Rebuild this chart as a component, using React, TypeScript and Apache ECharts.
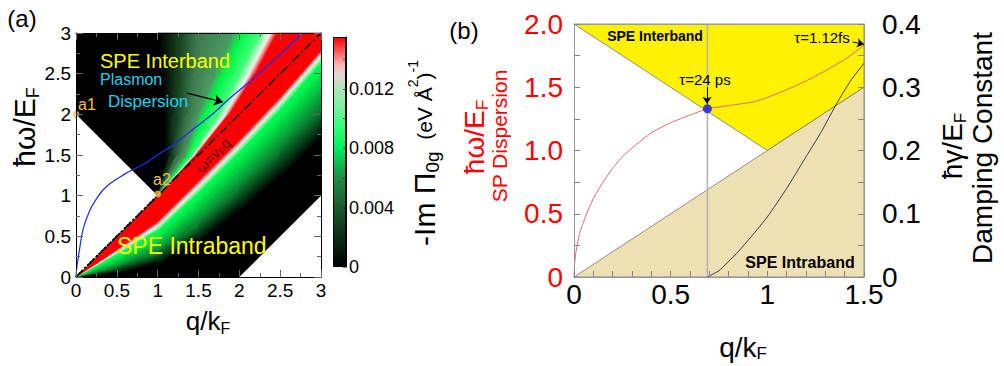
import React, { useEffect, useRef } from 'react';
import * as echarts from 'echarts';

const FONT = '"Liberation Sans", Arial, Helvetica, sans-serif';

// ---------------- Panel (a) ----------------
const aAxisMin = 0;
const aAxisMax = 3;
const aAxisStep = 0.5;

// Heat map.
// Intraband side (below ω = vF q): ħω/EF of each colour edge at these q/kF columns
const intraCols = [0, 0.25, 0.5, 1, 1.5, 2, 2.5, 3];
const intraLineW = [0, 0.25, 0.5, 1, 1.5, 2, 2.5, 3];
const intraRedW = [0, 0.17, 0.34, 0.69, 1.19, 1.69, 2.22, 2.79];
const intraWhiteW = [0, 0.15, 0.31, 0.63, 1.12, 1.62, 2.15, 2.73];
const intraBrightW = [0, 0.13, 0.27, 0.56, 1.02, 1.52, 2.04, 2.62];
const intraGreenW = [0, 0.1, 0.2, 0.45, 0.88, 1.36, 1.86, 2.42];
const intraMidW = [0, 0.06, 0.13, 0.32, 0.68, 1.12, 1.6, 2.12];
const intraBlackW = [0, 0.02, 0.05, 0.15, 0.42, 0.8, 1.22, 1.68];
const intraColors = ['#000000', '#0e8a33', '#00d844', '#00ff50', '#f2f6ee', '#ff0000', '#ff0000'];
// Interband side (above ω = vF q): q/kF of each colour edge at these ħω/EF rows
const interRows = [1, 1.5, 2, 2.5, 3];
const interBlackQ = [1, 1.1, 1.07, 1.04, 1.0];
const interDarkQ = [1, 1.18, 1.22, 1.25, 1.25];
const interGreyQ = [1, 1.27, 1.4, 1.45, 1.5];
const interGrey2Q = [1, 1.33, 1.5, 1.68, 1.92];
const interBrightQ = [1, 1.38, 1.57, 1.82, 2.03];
const interLimeQ = [1, 1.42, 1.74, 2.0, 2.25];
const interWhiteQ = [1, 1.45, 1.83, 2.12, 2.38];
const interRedQ = [1, 1.47, 1.88, 2.2, 2.47];
const interLineQ = [1, 1.5, 2, 2.5, 3];
const interColors = ['#000000', '#143f1e', '#3d7d50', '#4a9a60', '#00f848', '#40ff78', '#f6f0f0', '#ff0000', '#ff0000'];

const frameA = [[0, 0], [3, 0], [3, 3], [0, 3]];
const blockedLeft = [[0, 0], [0, 2], [1, 1]];
const blockedRight = [[2, 0], [3, 0], [3, 1]];
const lightLine = [[0, 0], [3, 3]];
const edgeLine = [[0, 0], [1, 1]];
const plasmonA = [
  [0, 0], [0.01, 0.12], [0.03, 0.25], [0.06, 0.45], [0.09, 0.6], [0.17, 0.82], [0.25, 0.96],
  [0.33, 1.07], [0.43, 1.16], [0.54, 1.23], [0.62, 1.28], [0.7, 1.32], [0.8, 1.37], [0.9, 1.43],
  [1.0, 1.5], [1.2, 1.63], [1.4, 1.79], [1.67, 2.0], [1.85, 2.17], [2.1, 2.38], [2.35, 2.6],
  [2.57, 2.8], [2.77, 3.0],
];
const markersA = [[0, 2], [1, 1.02]];
const arrowA = [[1.36, 2.26], [1.8, 2.15]];

// ---------------- colour bar ----------------
const cbMax = 0.0155;
const cbTickStep = 0.004;
const cbStops: [number, string][] = [
  [0, '#000000'], [0.07, '#041a09'], [0.13, '#0b2c14'], [0.26, '#1b5a2d'], [0.39, '#1f8f45'],
  [0.52, '#00f060'], [0.6, '#2cff74'], [0.7, '#7eeea0'], [0.77, '#a8e6b8'], [0.84, '#e8d4d2'],
  [0.88, '#f7b6b4'], [0.94, '#ff5a5a'], [1, '#ff0000'],
];

// ---------------- Panel (b) ----------------
const bXMax = 1.5;
const bXStep = 0.5;
const bLeftMax = 2;
const bLeftStep = 0.5;
const bRightMax = 0.4;
const bRightStep = 0.1;
const interbandB = [[0, 2], [1.5, 2], [1.5, 1.5], [1, 1]];
const intrabandB = [[0, 0], [1.5, 0], [1.5, 1.5]];
const plasmonB = [
  [0, 0.0], [0.003, 0.1], [0.01, 0.2], [0.03, 0.35], [0.06, 0.48], [0.1, 0.62], [0.15, 0.75],
  [0.2, 0.86], [0.25, 0.95], [0.3, 1.02], [0.4, 1.14], [0.5, 1.22], [0.6, 1.28], [0.69, 1.33],
  [0.8, 1.355], [0.93, 1.385], [1.0, 1.42], [1.1, 1.48], [1.2, 1.55], [1.3, 1.63], [1.4, 1.72],
  [1.5, 1.83],
];
const dampingB = [
  [0.69, 0], [0.75, 0.01], [0.84, 0.037], [0.92, 0.065], [1.0, 0.095], [1.1, 0.14], [1.19, 0.185],
  [1.28, 0.23], [1.36, 0.275], [1.43, 0.31], [1.5, 0.338],
];
const crossingB = [[0.69, 1.33]];
const crossLineB = [[0.69, 0], [0.69, 2]];
const arrowB1 = [[0.688, 1.5], [0.688, 1.37]];
const arrowB2 = [[1.44, 1.858], [1.5, 1.84]];

type Pt = number[];

function poly(pts: Pt[], fill: string, xi: number, yi: number, o: any = {}) {
  return {
    type: 'custom',
    xAxisIndex: xi,
    yAxisIndex: yi,
    silent: true,
    z: 2,
    data: pts,
    renderItem: (params: any, api: any) => {
      if (params.dataIndex !== 0) return null;
      return {
        type: 'polygon',
        shape: { points: pts.map((p) => api.coord(p)) },
        style: { fill, stroke: o.stroke || null, lineWidth: o.stroke ? 0.8 : 0 },
      };
    },
  };
}

// Colour bands between successive edges, shaded across the band from one edge colour to the next.
function bandSeries(edges: number[][], colors: string[], toPoint: (edge: number[], j: number) => Pt) {
  return {
    type: 'custom',
    xAxisIndex: 0,
    yAxisIndex: 0,
    silent: true,
    z: 2,
    data: edges[0].map((v, j) => [j, v]),
    renderItem: (params: any, api: any) => {
      if (params.dataIndex !== 0) return null;
      const children: any[] = [];
      const n = edges[0].length;
      for (let k = 0; k < edges.length - 1; k++) {
        for (let j = 0; j < n - 1; j++) {
          const a0 = api.coord(toPoint(edges[k], j));
          const a1 = api.coord(toPoint(edges[k], j + 1));
          const b1 = api.coord(toPoint(edges[k + 1], j + 1));
          const b0 = api.coord(toPoint(edges[k + 1], j));
          const om = [(a0[0] + a1[0]) / 2, (a0[1] + a1[1]) / 2];
          const im = [(b0[0] + b1[0]) / 2, (b0[1] + b1[1]) / 2];
          let dx = a1[0] - a0[0] + (b1[0] - b0[0]);
          let dy = a1[1] - a0[1] + (b1[1] - b0[1]);
          const dl = Math.hypot(dx, dy) || 1;
          dx /= dl;
          dy /= dl;
          const nx = -dy;
          const ny = dx;
          const t = (im[0] - om[0]) * nx + (im[1] - om[1]) * ny;
          let fill: any = colors[k + 1];
          if (Math.abs(t) > 0.5 && colors[k] !== colors[k + 1]) {
            fill = new echarts.graphic.LinearGradient(
              om[0], om[1], om[0] + nx * t, om[1] + ny * t,
              [{ offset: 0, color: colors[k] }, { offset: 1, color: colors[k + 1] }],
              true
            );
          }
          children.push({
            type: 'polygon',
            shape: { points: [a0, a1, b1, b0] },
            style: { fill, stroke: fill, lineWidth: 0.7 },
          });
        }
      }
      return { type: 'group', children };
    },
  };
}

function gtext(x: number, y: number, text: string, size: number, opts: any = {}) {
  return {
    type: 'text',
    x,
    y,
    rotation: opts.rotation || 0,
    z: 200,
    silent: true,
    style: {
      text,
      fill: opts.fill || '#000',
      fontSize: size,
      fontFamily: FONT,
      fontWeight: opts.bold ? 'bold' : 'normal',
      align: opts.align || 'center',
      verticalAlign: 'middle',
      rich: opts.rich,
    },
  };
}

function subRich(size: number, sub: number, fill: string) {
  return {
    m: { fontSize: size, lineHeight: Math.round(size * 1.2), fill, fontFamily: FONT },
    s: { fontSize: sub, lineHeight: sub, verticalAlign: 'bottom', fill, fontFamily: FONT },
  };
}

function valueAxis(grid: number, pos: string, min: number, max: number, step: number, o: any = {}) {
  return {
    gridIndex: grid,
    type: 'value',
    position: pos,
    min,
    max,
    interval: step,
    z: 10,
    axisLine: { show: true, onZero: false, lineStyle: { color: o.line || '#000', width: 1 } },
    axisTick: { show: true, inside: true, length: o.tickLen || 7, lineStyle: { color: o.tick || '#666' } },
    minorTick: { show: true, splitNumber: o.minor || 2, length: o.minorLen || 4, lineStyle: { color: o.tick || '#666' } },
    splitLine: { show: false },
    axisLabel: o.labels
      ? {
          show: true,
          fontSize: o.fontSize,
          fontFamily: FONT,
          color: o.labelColor || '#000',
          margin: o.margin,
          formatter: o.formatter,
          showMaxLabel: o.showMax !== false,
        }
      : { show: false },
  };
}

function buildOption() {
  const fmtA = (v: number) => String(v);
  const fmtB = (v: number) => (v === 0 ? '0' : v.toFixed(1));
  const fmtBx = (v: number) => String(v);

  const grad = new echarts.graphic.LinearGradient(
    0, 1, 0, 0,
    cbStops.map(([offset, color]) => ({ offset, color }))
  );

  const intraEdges = [intraBlackW, intraMidW, intraGreenW, intraBrightW, intraWhiteW, intraRedW, intraLineW];
  const interEdges = [interBlackQ, interDarkQ, interGreyQ, interGrey2Q, interBrightQ, interLimeQ, interWhiteQ, interRedQ, interLineQ];

  return {
    animation: false,
    backgroundColor: '#fff',
    grid: [
      { left: 76, top: 33, width: 245, height: 244 },
      { left: 574, top: 24, width: 290, height: 253 },
      { left: 333, top: 37, width: 13, height: 230 },
    ],
    xAxis: [
      valueAxis(0, 'bottom', aAxisMin, aAxisMax, aAxisStep, { labels: true, fontSize: 19, margin: 4, formatter: fmtA }),
      valueAxis(0, 'top', aAxisMin, aAxisMax, aAxisStep, {}),
      valueAxis(1, 'bottom', 0, bXMax, bXStep, { labels: true, fontSize: 28, margin: 3, formatter: fmtBx, minor: 5, line: '#999', tick: '#888', tickLen: 6, minorLen: 6 }),
      valueAxis(1, 'top', 0, bXMax, bXStep, { line: '#999', tick: 'rgba(0,0,0,0)' }),
      { gridIndex: 2, type: 'category', data: ['cb'], show: false },
    ],
    yAxis: [
      valueAxis(0, 'left', aAxisMin, aAxisMax, aAxisStep, { labels: true, fontSize: 19, margin: 5, formatter: fmtA }),
      valueAxis(0, 'right', aAxisMin, aAxisMax, aAxisStep, {}),
      valueAxis(1, 'left', 0, bLeftMax, bLeftStep, { labels: true, fontSize: 28, margin: 11, formatter: fmtB, labelColor: '#ff0000', line: '#999', tick: '#888', tickLen: 6, minorLen: 6 }),
      valueAxis(1, 'right', 0, bRightMax, bRightStep, { labels: true, fontSize: 28, margin: 18, formatter: fmtB, line: '#999', tick: '#888', tickLen: 6, minorLen: 6 }),
      valueAxis(2, 'right', 0, cbMax, cbTickStep, { labels: true, fontSize: 18, margin: 3, showMax: false, formatter: (v: number) => (v === 0 ? '0' : v.toFixed(3)), tick: 'rgba(40,40,40,0.7)', tickLen: 3, minorLen: 3 }),
    ],
    series: [
      // panel (a) heat map
      poly(frameA, '#000000', 0, 0),
      bandSeries(intraEdges, intraColors, (e, j) => [intraCols[j], e[j]]),
      bandSeries(interEdges, interColors, (e, j) => [e[j], interRows[j]]),
      poly(blockedLeft, '#ffffff', 0, 0),
      poly(blockedRight, '#ffffff', 0, 0),
      {
        type: 'line', xAxisIndex: 0, yAxisIndex: 0, data: edgeLine, showSymbol: false, silent: true,
        lineStyle: { color: '#000', width: 2, type: [2, 2] },
      },
      {
        type: 'line', xAxisIndex: 0, yAxisIndex: 0, data: lightLine, showSymbol: false, silent: true,
        lineStyle: { color: '#000', width: 1.6, type: [9, 3, 2, 3] },
        markLine: {
          silent: true, symbol: ['none', 'arrow'], symbolSize: 9,
          label: { show: false },
          lineStyle: { color: '#000', width: 1.2, type: 'solid' },
          data: [[{ coord: arrowA[0] }, { coord: arrowA[1] }]],
        },
      },
      {
        type: 'line', xAxisIndex: 0, yAxisIndex: 0, data: plasmonA, showSymbol: false, silent: true,
        smooth: 0.15, lineStyle: { color: '#1a2cff', width: 1.2 },
      },
      {
        type: 'scatter', xAxisIndex: 0, yAxisIndex: 0, data: markersA, symbolSize: 7, silent: true,
        itemStyle: { color: '#f4c24c' }, z: 5,
      },
      // colour bar
      {
        type: 'bar', xAxisIndex: 4, yAxisIndex: 4, data: [cbMax], barWidth: '100%', silent: true,
        itemStyle: { color: grad, borderColor: '#000', borderWidth: 1 },
      },
      // panel (b)
      poly(interbandB, '#fff200', 2, 2, { stroke: '#777' }),
      poly(intrabandB, '#ede0b2', 2, 2, { stroke: '#777' }),
      {
        type: 'line', xAxisIndex: 2, yAxisIndex: 2, data: crossLineB, showSymbol: false, silent: true,
        lineStyle: { color: '#b4b4b4', width: 1.6 },
        markLine: {
          silent: true, symbol: ['none', 'arrow'], symbolSize: 7,
          label: { show: false },
          lineStyle: { color: '#000', width: 1, type: 'solid' },
          data: [
            [{ coord: arrowB1[0] }, { coord: arrowB1[1] }],
            [{ coord: arrowB2[0] }, { coord: arrowB2[1] }],
          ],
        },
      },
      {
        type: 'line', xAxisIndex: 2, yAxisIndex: 2, data: plasmonB, showSymbol: false, silent: true,
        smooth: 0.15, lineStyle: { color: '#dc6a6a', width: 1 },
      },
      {
        type: 'line', xAxisIndex: 2, yAxisIndex: 3, data: dampingB, showSymbol: false, silent: true,
        smooth: 0.15, lineStyle: { color: '#3a3a4a', width: 1 },
      },
      {
        type: 'scatter', xAxisIndex: 2, yAxisIndex: 2, data: crossingB, symbolSize: 9, silent: true,
        itemStyle: { color: '#1414e6' }, z: 5,
      },
    ],
    graphic: [
      // panel (a)
      gtext(22, 18, '(a)', 24),
      gtext(100, 61, 'SPE Interband', 20, { align: 'left', fill: '#ffff00' }),
      gtext(100, 79, 'Plasmon', 16, { align: 'left', fill: '#1ed2ee' }),
      gtext(108, 101, 'Dispersion', 17, { align: 'left', fill: '#1ed2ee' }),
      gtext(78, 104, 'a1', 16, { align: 'left', fill: '#f2c04a' }),
      gtext(153, 179, 'a2', 16, { align: 'left', fill: '#f2c04a' }),
      gtext(213, 155, '{m|ω=v}{s|F}{m|q}', 15, { rotation: Math.PI / 4, rich: subRich(15, 10, '#5a0000') }),
      gtext(117, 246, 'SPE Intraband', 23, { align: 'left', fill: '#ffff00' }),
      gtext(208, 321, '{m|q/k}{s|F}', 26, { rich: subRich(26, 16, '#000') }),
      gtext(24, 127, '{m|ħω/E}{s|F}', 30, { rotation: Math.PI / 2, rich: subRich(30, 18, '#000') }),
      gtext(424, 153, '{m|-Im Π}{s|0g}{n|  (eV Å}{u|2}{n|)}{u|-1}', 30, {
        rotation: Math.PI / 2,
        rich: {
          m: { fontSize: 30, lineHeight: 36, fill: '#000', fontFamily: FONT },
          s: { fontSize: 19, lineHeight: 19, verticalAlign: 'bottom', fill: '#000', fontFamily: FONT },
          n: { fontSize: 21, lineHeight: 36, fill: '#000', fontFamily: FONT },
          u: { fontSize: 14, lineHeight: 20, verticalAlign: 'top', fill: '#000', fontFamily: FONT },
        },
      }),
      // panel (b)
      gtext(464, 30, '(b)', 24),
      gtext(474, 137, '{m|ħω/E}{s|F}', 28, { rotation: Math.PI / 2, rich: subRich(28, 17, '#ff0000') }),
      gtext(499, 136, 'SP Dispersion', 21, { rotation: Math.PI / 2, fill: '#ff0000' }),
      gtext(952, 146, '{m|ħγ/E}{s|F}', 28, { rotation: Math.PI / 2, rich: subRich(28, 17, '#000') }),
      gtext(982, 148, 'Damping Constant', 28, { rotation: Math.PI / 2 }),
      gtext(743, 347, '{m|q/k}{s|F}', 28, {
        rich: {
          m: { fontSize: 28, lineHeight: 30, fill: '#000', fontFamily: FONT },
          s: { fontSize: 17, lineHeight: 14, verticalAlign: 'bottom', fill: '#000', fontFamily: FONT },
        },
      }),
      gtext(655, 36, 'SPE Interband', 14, { bold: true }),
      gtext(705, 79, 'τ=24 ps', 15),
      gtext(822, 37, 'τ=1.12fs', 15),
      gtext(800, 262, 'SPE Intraband', 16, { bold: true }),
    ],
  };
}

export default function App() {
  const ref = useRef<HTMLDivElement>(null);
  useEffect(() => {
    if (!ref.current) return;
    const chart = echarts.init(ref.current, null, { renderer: 'svg' });
    chart.setOption(buildOption() as any);
    return () => chart.dispose();
  }, []);
  return (
    <div
      ref={ref}
      style={{ position: 'fixed', left: 0, top: 0, width: 1004, height: 366, background: '#fff' }}
    />
  );
}
